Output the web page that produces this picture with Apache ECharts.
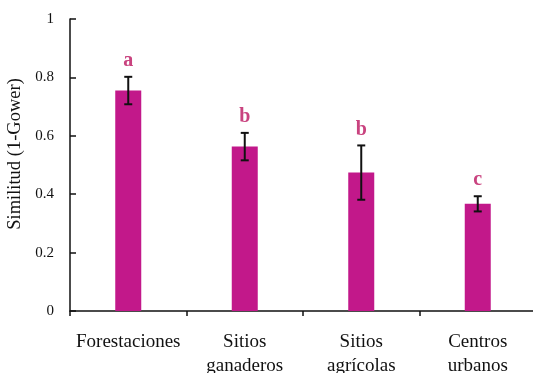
<!DOCTYPE html>
<html>
<head>
<meta charset="utf-8">
<script src="https://cdn.jsdelivr.net/npm/echarts@6/dist/echarts.min.js"></script>
<style>
  html, body { margin: 0; padding: 0; background: #fff; }
  #chart { width: 533px; height: 373px; }
</style>
</head>
<body>
<div id="chart"></div>
<script>
// Mean similarity (1 - Gower) per land-use type, with error and significance groups
const categories = ['Forestaciones', 'Sitios\nganaderos', 'Sitios\nagrícolas', 'Centros\nurbanos'];
const means = [0.755, 0.563, 0.474, 0.367];
const errors = [0.047, 0.047, 0.093, 0.026];
const groups = ['a', 'b', 'b', 'c'];
const yTicks = [0, 0.2, 0.4, 0.6, 0.8, 1];

const serif = '"Liberation Serif", "DejaVu Serif", serif';
const barColor = '#c2188a';
const letterColor = '#c9437f';

const errorData = means.map((m, i) => [i, m - errors[i], m + errors[i], groups[i]]);

const chart = echarts.init(document.getElementById('chart'), null, { renderer: 'canvas' });

chart.setOption({
  animation: false,
  backgroundColor: '#ffffff',
  grid: { left: 70, top: 19, bottom: 62, width: 466, containLabel: false, outerBoundsMode: 'none' },
  xAxis: {
    type: 'category',
    data: categories,
    axisLine: { lineStyle: { color: '#111', width: 1.5 } },
    axisTick: { show: true, length: 5, inside: false, alignWithLabel: false, lineStyle: { color: '#111', width: 1.5 } },
    axisLabel: {
      color: '#111', fontFamily: serif, fontSize: 19, lineHeight: 24, margin: 19, interval: 0
    }
  },
  yAxis: {
    type: 'value',
    min: yTicks[0],
    max: yTicks[yTicks.length - 1],
    interval: 0.2,
    name: 'Similitud (1-Gower)',
    nameLocation: 'middle',
    nameGap: 44,
    nameRotate: 90,
    // left padding nudges the rotated title upward along the axis
    nameTextStyle: { color: '#111', fontFamily: serif, fontSize: 18.5, padding: [0, 0, 0, 22] },
    splitLine: { show: false },
    axisLine: { show: true, lineStyle: { color: '#111', width: 1.5 } },
    axisTick: { show: true, inside: true, length: 6, lineStyle: { color: '#111', width: 1.5 } },
    axisLabel: { color: '#111', fontFamily: serif, fontSize: 15, margin: 16 }
  },
  series: [
    {
      type: 'bar',
      data: means,
      barWidth: 26,
      itemStyle: { color: barColor },
      z: 2
    },
    {
      type: 'custom',
      data: errorData,
      z: 3,
      renderItem: function (params, api) {
        const x = api.coord([api.value(0), 0])[0];
        const lo = api.coord([api.value(0), api.value(1)])[1];
        const hi = api.coord([api.value(0), api.value(2)])[1];
        const cap = 4;
        const stroke = { stroke: '#111', lineWidth: 2 };
        return {
          type: 'group',
          children: [
            { type: 'line', shape: { x1: x, y1: lo, x2: x, y2: hi }, style: stroke },
            { type: 'line', shape: { x1: x - cap, y1: hi, x2: x + cap, y2: hi }, style: stroke },
            { type: 'line', shape: { x1: x - cap, y1: lo, x2: x + cap, y2: lo }, style: stroke },
            {
              type: 'text',
              x: x,
              y: hi - 6,
              style: {
                text: groups[params.dataIndex],
                fill: letterColor,
                font: 'bold 20px ' + serif,
                align: 'center',
                verticalAlign: 'bottom'
              }
            }
          ]
        };
      }
    }
  ]
});
</script>
</body>
</html>
